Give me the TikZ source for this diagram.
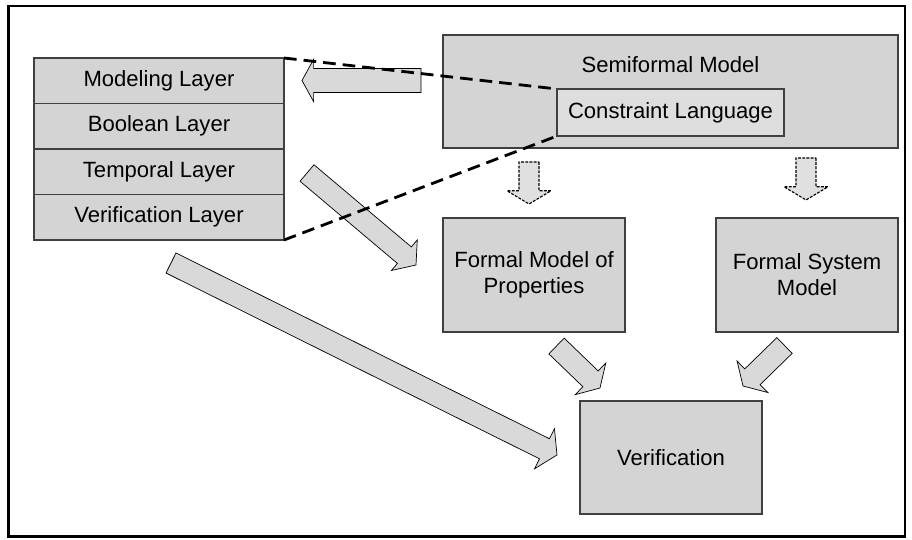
\documentclass[tikz,border=0pt]{standalone}
\usepackage{fontspec}
\setmainfont{Liberation Sans}
\usetikzlibrary{calc,positioning}

% block arrow: [style]{from}{to}{shaft half width}{head half width}{head length}
\newcommand{\blockarrow}[6][]{%
  \coordinate (hb) at ($(#3)!#6!(#2)$);
  \draw[#1] ($(#2)!#4!90:(#3)$) -- ($(hb)!#4!90:(#3)$) -- ($(hb)!#5!90:(#3)$) -- (#3)
    -- ($(hb)!#5!-90:(#3)$) -- ($(hb)!#4!-90:(#3)$) -- ($(#2)!#4!-90:(#3)$) -- cycle;
}

\begin{document}
\begin{tikzpicture}[font=\fontsize{15.7}{18.5}\selectfont]
        % Styles
        \tikzstyle{box}=[draw=black!75,line width=0.8pt,fill=black!17,align=center,inner sep=0pt,outer sep=0pt]
        \tikzstyle{layer}=[box,minimum width=6.25cm,minimum height=1.1375cm]
        \tikzstyle{model}=[box,minimum width=4.55cm,minimum height=2.85cm]
        \tikzstyle{block}=[fill=black!15,draw=black,line width=0.5pt,line join=miter]
        \tikzstyle{dashed block}=[block,fill=black!12,line width=0.8pt,dash pattern=on 2pt off 1pt]
        \tikzstyle{link}=[line width=2pt,dash pattern=on 9pt off 5pt]
        %frame
        \useasboundingbox (0,0) rectangle (22.8,13.475);
        \draw[line width=2.1pt] (0.2125,0.0625) rectangle (22.625,13.325);
        %layers
        \node[layer,anchor=north] (modeling) at (3.975,12.025) {Modeling Layer};
        \node[layer,below=0pt of modeling] (boolean) {Boolean Layer};
        \node[layer,below=0pt of boolean] (temporal) {Temporal Layer};
        \node[layer,below=0pt of temporal] (verlayer) {Verification Layer};
        %models
        \node[box,minimum width=11.375cm,minimum height=2.825cm] (semi) at (16.7625,11.1875) {};
        \node (semititle) at ([yshift=-0.75cm]semi.north) {Semiformal Model};
        \node[box,fill=black!13,minimum width=5.675cm,minimum height=1.175cm] (constraint) at (16.7625,10.6625) {Constraint Language};
        \node[model] (fmp) at (13.35,6.6) {Formal Model of\\Properties};
        \node[model] (fsm) at (20.175,6.6) {Formal System\\Model};
        \node[model,minimum height=2.825cm] (verif) at (16.775,2.0375) {Verification};
        %arrows
        \coordinate (lfrom) at (10.525,11.4625);
        \coordinate (lto) at (7.55,11.4625);
        \coordinate (tfrom) at (7.675,9.15);
        \coordinate (tto) at (10.4,6.85);
        \coordinate (vfrom) at (4.275,6.9);
        \coordinate (vto) at (13.925,2.1);
        \coordinate (pfrom) at (13.9125,4.825);
        \coordinate (pto) at (15.0,3.775);
        \coordinate (sfrom) at (19.6125,4.8375);
        \coordinate (sto) at (18.575,3.825);
        \coordinate (dlfrom) at (13.225,9.425);
        \coordinate (dlto) at (13.225,8.375);
        \coordinate (drfrom) at (20.15,9.525);
        \coordinate (drto) at (20.15,8.475);
        \blockarrow[block]{lfrom}{lto}{0.3cm}{0.53cm}{0.29cm}
        \blockarrow[block]{tfrom}{tto}{0.27cm}{0.5cm}{0.38cm}
        \blockarrow[block]{vfrom}{vto}{0.28cm}{0.56cm}{0.35cm}
        \blockarrow[block]{pfrom}{pto}{0.275cm}{0.55cm}{0.33cm}
        \blockarrow[block]{sfrom}{sto}{0.275cm}{0.55cm}{0.33cm}
        \blockarrow[dashed block]{dlfrom}{dlto}{0.25cm}{0.55cm}{0.33cm}
        \blockarrow[dashed block]{drfrom}{drto}{0.25cm}{0.55cm}{0.33cm}
        %dashed links
        \draw[link] (modeling.north east) -- (constraint.north west);
        \draw[link] (verlayer.south east) -- (constraint.south west);
\end{tikzpicture}
\end{document}
